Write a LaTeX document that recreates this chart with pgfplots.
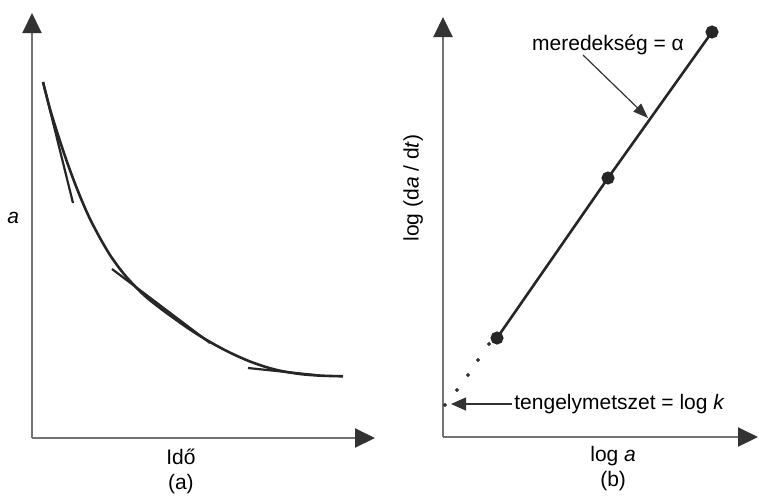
\documentclass[border=0pt]{standalone}
\usepackage{fontspec}
\setmainfont{Liberation Sans}
\usepackage{pgfplots}
\pgfplotsset{compat=1.18}
\usetikzlibrary{arrows.meta}
\begin{document}
\fontsize{10.5}{12.5}\selectfont
\begin{tikzpicture}[x=0.5pt,y=0.5pt]
\path[use as bounding box] (0,0) rectangle (759,495);
\pgfplotsset{every axis/.append style={scale only axis, axis lines=left, ticks=none,
  enlargelimits=false, clip=false,
  axis line style={line width=1pt, draw=black!55, -{Triangle[length=10pt,width=9.5pt,color=black!80]}}}}
% ---------- panel (a) ----------
\begin{axis}[at={(32,57)}, anchor=south west, width=171.5pt, height=212.5pt,
  xmin=32, xmax=375, ymin=57, ymax=482,
  xlabel={Idő\\(a)},
  every axis x label/.style={at={(axis description cs:0.434,-0.078)}, anchor=center, align=center},
  ylabel={\itshape a},
  every axis y label/.style={at={(axis description cs:-0.055,0.518)}, anchor=center}]
\addplot[smooth, line width=1.3pt, draw=black!85, no markers] coordinates {
(43,413)(50,386)(58,360)(66,336)(74,314)(82,294)(90,276)(100,257)(110,240)(120,226)
(130,214)(145,199)(160,187)(175,176)(190,165.5)(205,156)(220,147.5)(235,140)(250,133.5)
(265,128.3)(280,124.3)(300,121)(320,119.4)(343,118.7)};
\addplot[line width=1.1pt, draw=black!85, no markers] coordinates {(43,413)(73,292)};
\addplot[line width=1.1pt, draw=black!85, no markers] coordinates {(112,226)(210,152)};
\addplot[line width=1.1pt, draw=black!85, no markers] coordinates {(248,127)(320,119.5)};
\end{axis}
% ---------- panel (b) ----------
\begin{axis}[at={(443,58)}, anchor=south west, width=157.5pt, height=210pt,
  xmin=443, xmax=758, ymin=58, ymax=478,
  xlabel={log \textit{a}\\(b)},
  every axis x label/.style={at={(axis description cs:0.54,-0.075)}, anchor=center, align=center},
  ylabel={log (d\textit{a} / d\textit{t})},
  every axis y label/.style={at={(axis description cs:-0.095,0.593)}, anchor=center, rotate=90}]
\addplot[line width=1.3pt, draw=black!85, mark=*, mark size=2.6pt, mark options={fill=black!85}] coordinates {(497,157)(608,317)(712,463)};
\addplot[only marks, mark=*, mark size=0.8pt, black!80] coordinates {(489,151)(478,135)(468,120)(457,105)(445,90)};
\node at (axis cs:608,450) {meredekség = α};
\draw[line width=0.6pt, black!80, -{Triangle[length=7.5pt,width=5.5pt]}] (axis cs:583,440) -- (axis cs:648,377);
\node[anchor=west, inner sep=2pt] at (axis cs:510,91) {tengelymetszet = log \textit{k}};
\draw[line width=0.6pt, black!80, -{Triangle[length=7.5pt,width=6.5pt]}] (axis cs:512,91) -- (axis cs:451,91);
\end{axis}
\end{tikzpicture}
\end{document}
